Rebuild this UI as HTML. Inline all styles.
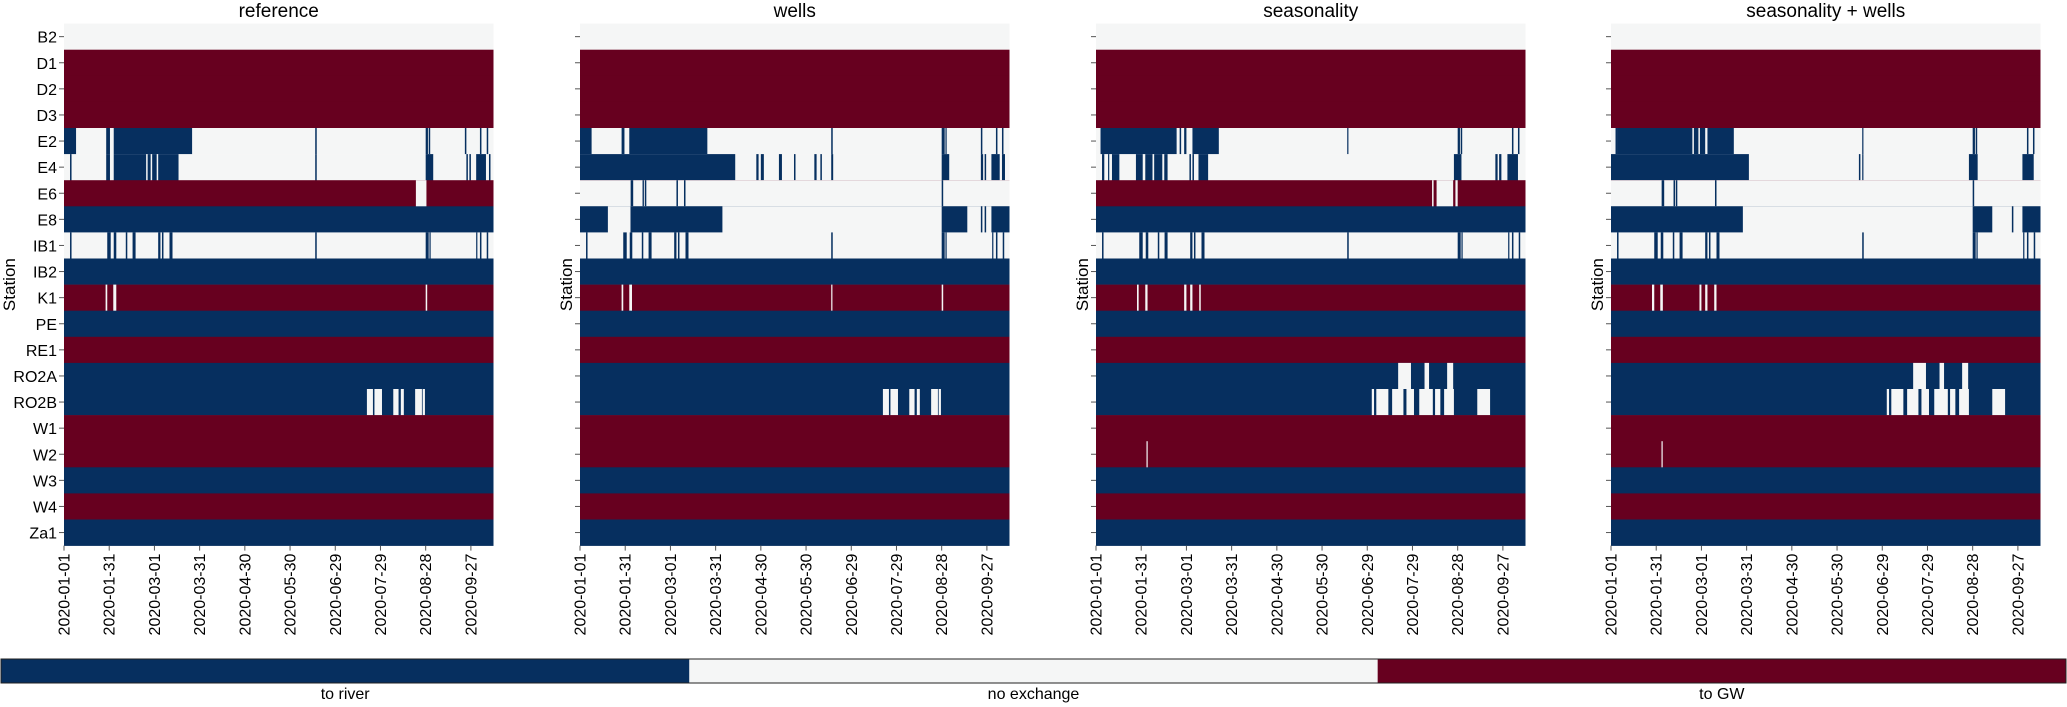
<!DOCTYPE html>
<html><head><meta charset="utf-8"><style>
body{margin:0;background:#fff;}
svg{display:block;font-family:"Liberation Sans","DejaVu Sans",sans-serif;}
</style></head><body>
<svg id="chart" width="2067" height="707" viewBox="0 0 2067 707" xmlns="http://www.w3.org/2000/svg"></svg>
<script>
// ---- data ----
const stations = ["B2","D1","D2","D3","E2","E4","E6","E8","IB1","IB2","K1","PE","RE1","RO2A","RO2B","W1","W2","W3","W4","Za1"];
const panelTitles = ["reference","wells","seasonality","seasonality + wells"];
const tickLabels = ["2020-01-01","2020-01-31","2020-03-01","2020-03-31","2020-04-30","2020-05-30","2020-06-29","2020-07-29","2020-08-28","2020-09-27"];
const tickDays = [0,30,60,90,120,150,180,210,240,270];
const nDays = 285;
// state codes: -1 to river, 0 no exchange, 1 to GW
const baseStates = [0,1,1,1,0,0,1,-1,0,-1,1,-1,1,-1,-1,1,1,-1,1,-1];
const ib1Segs = [[4,5,-1],[28.7,31,-1],[33,34.7,-1],[41,42,-1],[45.5,47.5,-1],[62.5,64,-1],[65,66,-1],[70,72,-1],[166.7,167.7,-1],[240,242,-1],[242.5,243.3,-1],[273.5,274.3,-1],[276,277,-1],[280.5,281.5,-1]];
const refSegs = {
  E2:[[0,8,-1],[28,30.5,-1],[33,85,-1],[166.7,167.7,-1],[240,241.5,-1],[242,243,-1],[266,267,-1],[276,277,-1],[280.5,281.5,-1]],
  E4:[[4,5,-1],[28,30.5,-1],[33,54.5,-1],[55.5,57.5,-1],[58.5,61.5,-1],[62.5,76,-1],[166.7,167.7,-1],[240,245,-1],[267,268,-1],[269,270,-1],[273.5,280,-1],[282,283,-1]],
  E6:[[233.5,240.5,0]],
  IB1:ib1Segs,
  K1:[[27.6,28.7,0],[32.7,34.7,0],[240,241,0]],
  RO2B:[[201,205,0],[206,211,0],[218.5,222,0],[223.5,225.5,0],[233,237.5,0],[238,239.5,0]]
};
const wellsSegs = {
  E2:[[0,7.7,-1],[27.6,29.5,-1],[32.7,84.5,-1],[166.7,167.7,-1],[240,242,-1],[242.5,243.3,-1],[266,267,-1],[276,277,-1],[280,281,-1]],
  E4:[[0,103,-1],[117,118.5,-1],[120,122,-1],[132,134,-1],[142,143,-1],[155.5,157,-1],[159.5,160.5,-1],[166.7,168,-1],[240,245,-1],[266,267.5,-1],[268.5,269.5,-1],[273,278.5,-1],[280,282,-1]],
  E6:[[0,285,0],[33.6,35.3,-1],[41.5,42.4,-1],[43,44,-1],[64,65,-1],[69,70,-1],[240,241,-1]],
  E8:[[0,285,0],[0,18.5,-1],[33.5,94.5,-1],[240,257,-1],[266,267,-1],[268.5,269.5,-1],[273,285,-1]],
  IB1:ib1Segs,
  K1:[[27.6,28.7,0],[32.7,34.5,0],[166.7,167.5,0],[240,241,0]],
  RO2B:[[201,205,0],[206,211,0],[218.5,222,0],[223.5,225.5,0],[233,237.5,0],[238,239.5,0]]
};
const seasSegs = {
  E2:[[3,4,-1],[3.5,53.5,-1],[55.5,56.5,-1],[58.5,60,-1],[64,81.5,-1],[166.7,167.5,-1],[240,241.5,-1],[242,243,-1],[276,277,-1],[280,281,-1]],
  E4:[[4,5.5,-1],[8,8.8,-1],[10.6,15.5,-1],[26.5,31,-1],[32.7,37.5,-1],[38.6,44,-1],[45.3,47.5,-1],[62,63,-1],[64,65,-1],[68,74.4,-1],[237.5,242.5,-1],[265,266.5,-1],[267.5,269,-1],[273,280,-1]],
  E6:[[223,224,0],[226,237,0],[238.5,240,0]],
  IB1:ib1Segs,
  K1:[[27.2,28.3,0],[32.7,34.2,0],[58.5,60,0],[62.5,64,0],[68.5,69.5,0]],
  RO2A:[[200.5,209,0],[218,221,0],[233,237,0]],
  RO2B:[[183,184.5,0],[186,194,0],[196.5,204,0],[206,211,0],[214.5,223.5,0],[225,228.5,0],[231,237.5,0],[253,261.5,0]],
  W2:[[33.5,34.3,0]]
};
const seasWellsSegs = {
  E2:[[3,4,-1],[4,54,-1],[55,58,-1],[59,62.5,-1],[64,81.5,-1],[166.7,167.5,-1],[240,241.5,-1],[242,243,-1],[276,277,-1],[280,281,-1]],
  E4:[[0,91.5,-1],[164.5,165.5,-1],[166.7,167.5,-1],[237.5,243.3,-1],[273,280.5,-1]],
  E6:[[0,285,0],[33.6,35.3,-1],[41.5,42.5,-1],[43,44,-1],[69,70,-1],[240,241,-1]],
  E8:[[0,285,0],[0,87.5,-1],[240,253,-1],[266,267,-1],[273,285,-1]],
  IB1:ib1Segs,
  K1:[[27.2,28.7,0],[32.7,34.4,0],[58.7,60,0],[62.5,64,0],[68.5,70,0]],
  RO2A:[[200.5,209,0],[218,221,0],[233,237,0]],
  RO2B:[[183,184.5,0],[186,194,0],[196.5,204,0],[206,211,0],[214.5,223.5,0],[225,228.5,0],[231,237.5,0],[253,261.5,0]],
  W2:[[33.5,34.3,0]]
};
const panelSegs = [refSegs, wellsSegs, seasSegs, seasWellsSegs];
const colorbarLabels = ["to river","no exchange","to GW"];

// ---- layout ----
const NS = "http://www.w3.org/2000/svg";
const svg = document.getElementById("chart");
const panelLefts = [64,580,1096,1611];
const panelW = 429.5, plotTop = 23.6, plotBottom = 545.6;
const rowH = (plotBottom - plotTop) / stations.length;
const colors = {"-1":"#062f5f","0":"#f5f6f6","1":"#67001f"};
function mk(tag, attrs, parent){const e=document.createElementNS(NS,tag);for(const k in attrs)e.setAttribute(k,attrs[k]);(parent||svg).appendChild(e);return e;}
function xScale(p,d){return panelLefts[p] + d/nDays*panelW;}
function yScale(i){return plotTop + i*rowH;}

panelTitles.forEach((title,p)=>{
  const g = mk("g",{});
  
  
  stations.forEach((st,i)=>{
    const y0 = yScale(i);
    const base = mk("rect",{x:xScale(p,0),y:y0,width:panelW,height:rowH+0.3,fill:colors[baseStates[i]]},g);
    
    
    (panelSegs[p][st]||[]).forEach(s=>{
      const r = mk("rect",{x:xScale(p,s[0]),y:y0,width:Math.max(1.2,xScale(p,s[1])-xScale(p,s[0])),height:rowH+0.3,fill:colors[s[2]]},g);
      
      
    });
    const tk = mk("line",{x1:xScale(p,0)-5,x2:xScale(p,0),y1:y0+rowH/2,y2:y0+rowH/2,stroke:"#555","stroke-width":1},g);
    
    
    if(p===0){
      const t = mk("text",{x:xScale(p,0)-7,y:y0+rowH/2+6,"text-anchor":"end","font-size":16,fill:"#000"},g);
      t.textContent = st;
      
      
    }
  });
  const tt = mk("text",{x:xScale(p,0)+panelW/2,y:17,"text-anchor":"middle","font-size":19,fill:"#000"},g);
  tt.textContent = title;
  
  
  const yl = mk("text",{x:0,y:0,"text-anchor":"middle","font-size":17,fill:"#000",transform:`translate(${panelLefts[p]-(p===0?49:8)},${(plotTop+plotBottom)/2}) rotate(-90)`},g);
  yl.textContent = "Station";
  
  
  tickDays.forEach((d,k)=>{
    const x = xScale(p,d);
    const l = mk("line",{x1:x,x2:x,y1:plotBottom,y2:plotBottom+5,stroke:"#555","stroke-width":1},g);
    
    
    const t = mk("text",{x:0,y:0,"text-anchor":"end","font-size":16,fill:"#000",transform:`translate(${x+5.5},${plotBottom+8}) rotate(-90)`},g);
    t.textContent = tickLabels[k];
    
    
  });
});

// colorbar
const cbG = mk("g",{});


const cbX = 1, cbW = 2065, cbY = 659, cbH = 24;
const cbColors = [colors["-1"],colors["0"],colors["1"]];
colorbarLabels.forEach((lab,k)=>{
  const r = mk("rect",{x:cbX+k*cbW/3,y:cbY,width:cbW/3,height:cbH,fill:cbColors[k]},cbG);
  
  
  const t = mk("text",{x:cbX+(k+0.5)*cbW/3,y:cbY+cbH+16,"text-anchor":"middle","font-size":16,fill:"#000"},cbG);
  t.textContent = lab;
  
  
});
const bd = mk("rect",{x:cbX,y:cbY,width:cbW,height:cbH,fill:"none",stroke:"#222","stroke-width":1},cbG);


</script>
</body></html>
